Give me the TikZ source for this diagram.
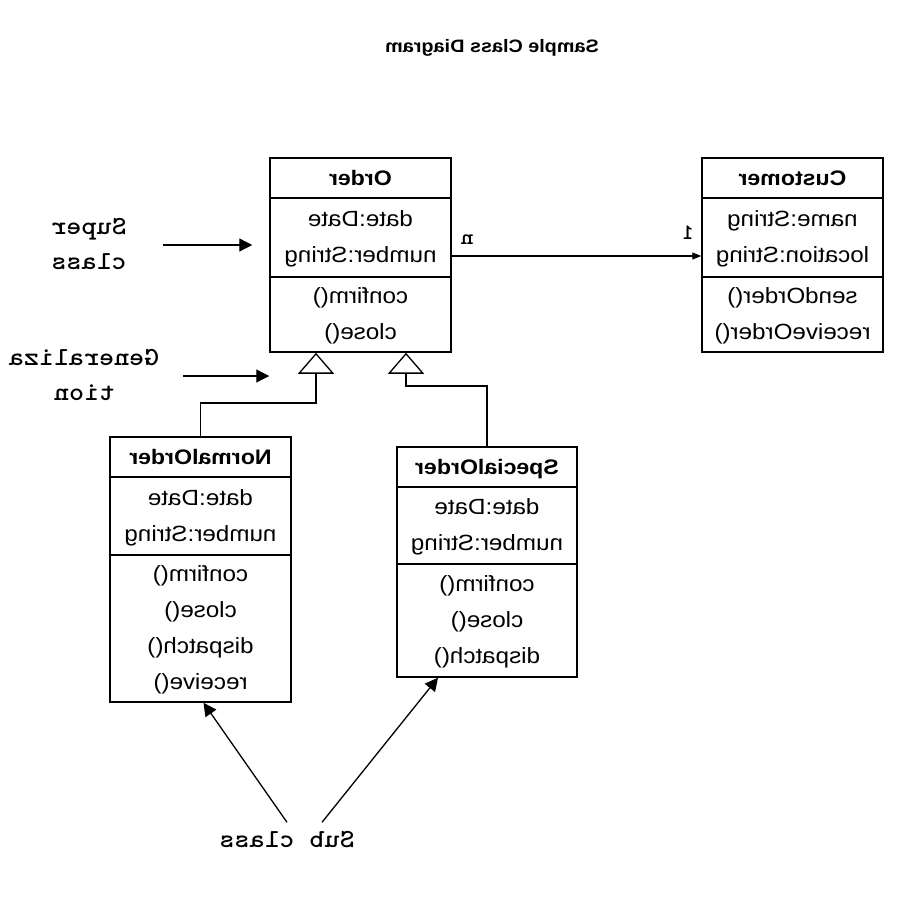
\documentclass[tikz,border=0pt]{standalone}
\usepackage{graphicx}
\usepackage{fontspec}
\setmainfont{Liberation Sans}
\usetikzlibrary{arrows.meta}

\newcommand{\mirtxt}[1]{\scalebox{-1.1}[1]{\begin{tabular}{@{}c@{}}#1\end{tabular}}}

\begin{document}
\begin{tikzpicture}[x=1pt, y=-1pt,
    cls/.style={draw, line width=1.5pt, inner sep=0pt, minimum width=181pt,
      font=\fontsize{22}{36}\selectfont},
    clshead/.style={cls, minimum height=40pt, font=\fontsize{21}{36}\selectfont\bfseries},
    note/.style={inner sep=0pt, font=\ttfamily\bfseries\fontsize{26}{35}\selectfont},
    ptr/.style={-{Triangle[length=13pt,width=13pt]}, line width=1.3pt},
    assoc/.style={-{Triangle[length=9pt,width=7pt]}, line width=1.1pt},
    gen/.style={-{Triangle[open,length=21pt,width=36pt]}, line width=1.3pt}]

    \fill[white] (0,0) rectangle (900,900);
    \useasboundingbox (0,0) rectangle (900,900);

    \node[font=\fontsize{18}{22}\selectfont\bfseries] (title) at (492,48) {\mirtxt{Sample Class Diagram}};

    \node[clshead] (ordh) at (360.5,178) {\mirtxt{Order}};
    \node[cls, minimum height=79pt] (orda) at (360.5,237.5) {\mirtxt{date:Date\\number:String}};
    \node[cls, minimum height=75pt] (ordm) at (360.5,314.5) {\mirtxt{confirm()\\close()}};

    \node[clshead] (cush) at (792.5,178) {\mirtxt{Customer}};
    \node[cls, minimum height=79pt] (cusa) at (792.5,237.5) {\mirtxt{name:String\\location:String}};
    \node[cls, minimum height=75pt] (cusm) at (792.5,314.5) {\mirtxt{sendOrder()\\receiveOrder()}};

    \node[clshead] (normh) at (200.5,457) {\mirtxt{NormalOrder}};
    \node[cls, minimum height=78pt] (norma) at (200.5,516) {\mirtxt{date:Date\\number:String}};
    \node[cls, minimum height=147pt] (normm) at (200.5,628.5) {\mirtxt{confirm()\\close()\\dispatch()\\receive()}};

    \node[clshead, minimum width=180pt] (spech) at (487,467) {\mirtxt{SpecialOrder}};
    \node[cls, minimum width=180pt, minimum height=77pt] (speca) at (487,525.5) {\mirtxt{date:Date\\number:String}};
    \node[cls, minimum width=180pt, minimum height=113pt] (specm) at (487,620.5) {\mirtxt{confirm()\\close()\\dispatch()}};

    \node[note] (sup) at (89,245) {\mirtxt{Super\\class}};
    \node[note] (gnl) at (84,376) {\mirtxt{Generaliza\\tion}};
    \node[note] (sub) at (287,840) {\mirtxt{Sub class}};
    \node[note, font=\ttfamily\bfseries\fontsize{22}{24}\selectfont] (mn) at (467,240) {\mirtxt{n}};
    \node[note, font=\ttfamily\bfseries\fontsize{22}{24}\selectfont] (m1) at (688,235) {\mirtxt{1}};

    \coordinate (gnbend) at (316,403);
    \coordinate (gsbend) at (406,386);

    \draw [assoc] ([yshift=-18.5pt]orda.east) -- ([yshift=-18.5pt]orda.east -| cusa.west);
    \draw [gen] (normh.north) |- (gnbend) -- (gnbend |- ordm.south);
    \draw [gen] (spech.north) |- (gsbend) -- (gsbend |- ordm.south);
    \draw [ptr] ([xshift=36pt]sup.east) -- ([xshift=-17pt]sup.east -| orda.west);
    \draw [ptr] ([xshift=24pt]gnl.east) -- (gnl.east -| ordm.west);
    \draw [ptr] (sub.north) -- ([xshift=3pt]normm.south);
    \draw [ptr] ([xshift=35pt]sub.north) -- ([xshift=-49pt]specm.south);

\end{tikzpicture}
\end{document}
